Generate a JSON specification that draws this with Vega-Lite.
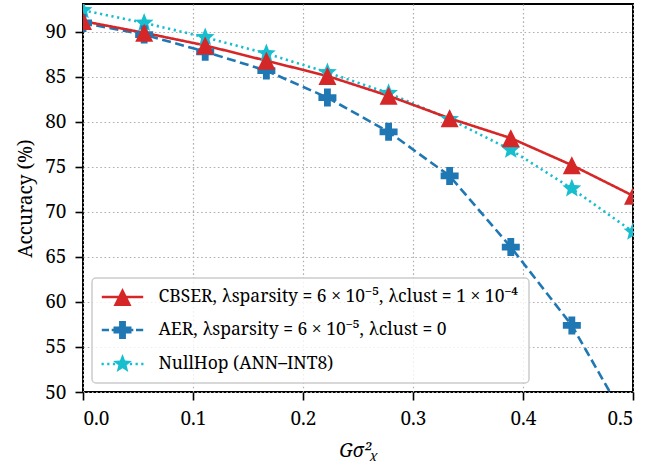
{
  "$schema": "https://vega.github.io/schema/vega-lite/v6.json",
  "width": 550,
  "height": 388,
  "autosize": {"type": "none"},
  "padding": {"left": 83, "top": 4, "right": 37, "bottom": 78},
  "background": "white",
  "config": {
    "font": "Noto Serif",
    "view": {"stroke": "black", "strokeWidth": 2},
    "axis": {
      "domain": false,
      "grid": true,
      "gridColor": "#b0b0b0",
      "gridDash": [1.6, 2.6],
      "gridWidth": 1.2,
      "tickColor": "black",
      "tickSize": 8,
      "tickWidth": 1.6,
      "labelFont": "Noto Serif",
      "labelFontSize": 19,
      "labelColor": "black",
      "labelPadding": 9,
      "titleFont": "Noto Serif",
      "titleFontSize": 19,
      "titleFontWeight": "normal",
      "titleColor": "black"
    },
    "legend": {
      "orient": "bottom-left",
      "offset": 9,
      "padding": 10,
      "cornerRadius": 4,
      "strokeColor": "#cccccc",
      "strokeWidth": 1.5,
      "fillColor": "rgba(255,255,255,0.8)",
      "labelFont": "Noto Serif",
      "labelFontSize": 17.5,
      "labelColor": "black",
      "labelLimit": 700,
      "rowPadding": 15,
      "symbolSize": 324,
      "symbolOffset": 11.5,
      "labelOffset": 27,
      "symbolOpacity": 1,
      "symbolStrokeWidth": 0
    }
  },
  "data": {
    "values": [
      {"s": "NullHop (ANN–INT8)", "x": 0, "y": 92.4},
      {"s": "NullHop (ANN–INT8)", "x": 0.0556, "y": 91.0},
      {"s": "NullHop (ANN–INT8)", "x": 0.1111, "y": 89.4},
      {"s": "NullHop (ANN–INT8)", "x": 0.1667, "y": 87.6},
      {"s": "NullHop (ANN–INT8)", "x": 0.2222, "y": 85.5},
      {"s": "NullHop (ANN–INT8)", "x": 0.2778, "y": 83.2},
      {"s": "NullHop (ANN–INT8)", "x": 0.3333, "y": 80.3},
      {"s": "NullHop (ANN–INT8)", "x": 0.3889, "y": 76.9},
      {"s": "NullHop (ANN–INT8)", "x": 0.4444, "y": 72.6},
      {"s": "NullHop (ANN–INT8)", "x": 0.5, "y": 67.8},
      {"s": "AER, λsparsity = 6 × 10⁻⁵, λclust = 0", "x": 0, "y": 91.0},
      {"s": "AER, λsparsity = 6 × 10⁻⁵, λclust = 0", "x": 0.0556, "y": 89.7},
      {"s": "AER, λsparsity = 6 × 10⁻⁵, λclust = 0", "x": 0.1111, "y": 87.8},
      {"s": "AER, λsparsity = 6 × 10⁻⁵, λclust = 0", "x": 0.1667, "y": 85.7},
      {"s": "AER, λsparsity = 6 × 10⁻⁵, λclust = 0", "x": 0.2222, "y": 82.7},
      {"s": "AER, λsparsity = 6 × 10⁻⁵, λclust = 0", "x": 0.2778, "y": 78.9},
      {"s": "AER, λsparsity = 6 × 10⁻⁵, λclust = 0", "x": 0.3333, "y": 74.0},
      {"s": "AER, λsparsity = 6 × 10⁻⁵, λclust = 0", "x": 0.3889, "y": 66.1},
      {"s": "AER, λsparsity = 6 × 10⁻⁵, λclust = 0", "x": 0.4444, "y": 57.4},
      {"s": "AER, λsparsity = 6 × 10⁻⁵, λclust = 0", "x": 0.5, "y": 45.5},
      {"s": "CBSER, λsparsity = 6 × 10⁻⁵, λclust = 1 × 10⁻⁴", "x": 0, "y": 91.2},
      {"s": "CBSER, λsparsity = 6 × 10⁻⁵, λclust = 1 × 10⁻⁴", "x": 0.0556, "y": 89.9},
      {"s": "CBSER, λsparsity = 6 × 10⁻⁵, λclust = 1 × 10⁻⁴", "x": 0.1111, "y": 88.5},
      {"s": "CBSER, λsparsity = 6 × 10⁻⁵, λclust = 1 × 10⁻⁴", "x": 0.1667, "y": 86.8},
      {"s": "CBSER, λsparsity = 6 × 10⁻⁵, λclust = 1 × 10⁻⁴", "x": 0.2222, "y": 85.1},
      {"s": "CBSER, λsparsity = 6 × 10⁻⁵, λclust = 1 × 10⁻⁴", "x": 0.2778, "y": 82.9},
      {"s": "CBSER, λsparsity = 6 × 10⁻⁵, λclust = 1 × 10⁻⁴", "x": 0.3333, "y": 80.4},
      {"s": "CBSER, λsparsity = 6 × 10⁻⁵, λclust = 1 × 10⁻⁴", "x": 0.3889, "y": 78.2},
      {"s": "CBSER, λsparsity = 6 × 10⁻⁵, λclust = 1 × 10⁻⁴", "x": 0.4444, "y": 75.2},
      {"s": "CBSER, λsparsity = 6 × 10⁻⁵, λclust = 1 × 10⁻⁴", "x": 0.5, "y": 71.8}
    ]
  },
  "encoding": {
    "x": {
      "field": "x", "type": "quantitative",
      "scale": {"domain": [0, 0.5], "nice": false, "zero": false},
      "axis": {"values": [0, 0.1, 0.2, 0.3, 0.4, 0.5], "format": ".1f", "title": "Gσ²ᵪ", "titleFontStyle": "italic", "titlePadding": 13}
    },
    "y": {
      "field": "y", "type": "quantitative",
      "scale": {"domain": [50, 93.1], "nice": false, "zero": false},
      "axis": {"values": [50, 55, 60, 65, 70, 75, 80, 85, 90], "title": "Accuracy (%)", "titlePadding": 9}
    }
  },
  "layer": [
    {
      "mark": {"type": "line", "clip": true, "strokeWidth": 2.6, "strokeCap": "butt", "strokeJoin": "round"},
      "encoding": {
        "color": {
          "field": "s", "type": "nominal",
          "scale": {
            "domain": ["CBSER, λsparsity = 6 × 10⁻⁵, λclust = 1 × 10⁻⁴", "AER, λsparsity = 6 × 10⁻⁵, λclust = 0", "NullHop (ANN–INT8)"],
            "range": ["#d62728", "#1f77b4", "#17becf"]
          },
          "legend": null
        },
        "strokeDash": {
          "field": "s", "type": "nominal",
          "scale": {
            "domain": ["CBSER, λsparsity = 6 × 10⁻⁵, λclust = 1 × 10⁻⁴", "AER, λsparsity = 6 × 10⁻⁵, λclust = 0", "NullHop (ANN–INT8)"],
            "range": [[1, 0], [9, 4.5], [2.2, 3.6]]
          },
          "legend": null
        }
      }
    },
    {
      "mark": {"type": "point", "filled": true, "clip": true, "opacity": 1, "size": 324, "strokeWidth": 0},
      "encoding": {
        "color": {
          "field": "s", "type": "nominal",
          "scale": {
            "domain": ["CBSER, λsparsity = 6 × 10⁻⁵, λclust = 1 × 10⁻⁴", "AER, λsparsity = 6 × 10⁻⁵, λclust = 0", "NullHop (ANN–INT8)"],
            "range": ["#d62728", "#1f77b4", "#17becf"]
          },
          "legend": null
        },
        "shape": {
          "field": "s", "type": "nominal",
          "scale": {
            "domain": ["CBSER, λsparsity = 6 × 10⁻⁵, λclust = 1 × 10⁻⁴", "AER, λsparsity = 6 × 10⁻⁵, λclust = 0", "NullHop (ANN–INT8)"],
            "range": [
              "M0,-1L1,1L-1,1Z",
              "M-0.38,-1H0.38V-0.38H1V0.38H0.38V1H-0.38V0.38H-1V-0.38H-0.38Z",
              "M0,-1.1L0.2821,-0.3883L1.046,-0.34L0.4565,0.1483L0.6466,0.89L0,0.48L-0.6466,0.89L-0.4565,0.1483L-1.046,-0.34L-0.2821,-0.3883Z"
            ]
          },
          "legend": null
        }
      }
    },
    {
      "transform": [{"filter": "datum.x > 1"}],
      "mark": {"type": "point", "filled": true, "opacity": 1, "size": 324, "strokeWidth": 0},
      "encoding": {
        "color": {
          "field": "s", "type": "nominal",
          "scale": {
            "domain": ["CBSER, λsparsity = 6 × 10⁻⁵, λclust = 1 × 10⁻⁴", "AER, λsparsity = 6 × 10⁻⁵, λclust = 0", "NullHop (ANN–INT8)"],
            "range": ["#d62728", "#1f77b4", "#17becf"]
          },
          "legend": {"title": null}
        },
        "shape": {
          "field": "s", "type": "nominal",
          "scale": {
            "domain": ["CBSER, λsparsity = 6 × 10⁻⁵, λclust = 1 × 10⁻⁴", "AER, λsparsity = 6 × 10⁻⁵, λclust = 0", "NullHop (ANN–INT8)"],
            "range": [
              "M-2.3,-0.14H2.3V0.14H-2.3Z M0,-1L1,1L-1,1Z",
              "M-2.3,-0.14H-1.5V0.14H-2.3Z M-1.2,-0.14H1.2V0.14H-1.2Z M1.5,-0.14H2.3V0.14H1.5Z M-0.38,-1H0.38V-0.38H1V0.38H0.38V1H-0.38V0.38H-1V-0.38H-0.38Z",
              "M-2.33,-0.14H-2.08V0.14H-2.33Z M-1.7,-0.14H-1.45V0.14H-1.7Z M-1.07,-0.14H-0.82V0.14H-1.07Z M0.82,-0.14H1.07V0.14H0.82Z M1.45,-0.14H1.7V0.14H1.45Z M2.08,-0.14H2.33V0.14H2.08Z M0,-1.1L0.2821,-0.3883L1.046,-0.34L0.4565,0.1483L0.6466,0.89L0,0.48L-0.6466,0.89L-0.4565,0.1483L-1.046,-0.34L-0.2821,-0.3883Z"
            ]
          },
          "legend": {"title": null}
        }
      }
    }
  ],
  "resolve": {"scale": {"color": "independent", "shape": "independent", "strokeDash": "independent"}}
}
